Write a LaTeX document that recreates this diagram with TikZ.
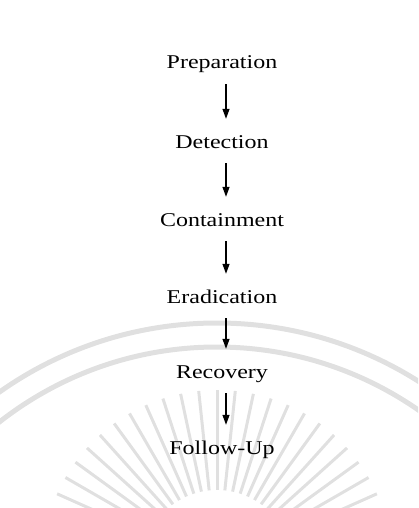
\documentclass[tikz,border=0pt]{standalone}
\usepackage{fontspec}
\setmainfont{Liberation Serif}[FakeStretch=1.23]
\usepackage{tikz}
\usetikzlibrary{arrows.meta}
\definecolor{markgray}{HTML}{E0E0E0}

\begin{document}
\begin{tikzpicture}[x=1pt,y=1pt,
  phase/.style={
    inner sep=0pt, anchor=base, text height=13pt, text depth=0pt,
    font=\fontsize{19.5}{22}\selectfont
  },
  arrow/.style={-{Triangle[length=10pt,width=7pt]}, line width=1.3pt,
    shorten <=15pt, shorten >=16pt},
  wmark/.style={draw=markgray, line width=5pt}
]
\useasboundingbox (0,0) rectangle (418,-508);

% faint watermark of the scanned page
\begin{scope}
\clip (0,0) rectangle (418,-508);
\draw[wmark] (217,-700) circle (377);
\draw[wmark] (217,-700) circle (353);
\foreach \a in {12,18,...,168}
  \draw[draw=markgray, line width=3pt] (217,-565) ++(\a:75) -- ++(\a:100);
\end{scope}

\node[phase] (prep) at (222,-69) {Preparation};
\node[phase] (det) at (222,-148) {Detection};
\node[phase] (cont) at (222,-226) {Containment};
\node[phase] (erad) at (222,-303) {Eradication};
\node[phase] (rec) at (222,-378) {Recovery};
\node[phase] (fol) at (222,-454) {Follow-Up};

\draw[arrow] ([xshift=4pt]prep.south) -- ([xshift=4pt]det.north);
\draw[arrow] ([xshift=4pt]det.south) -- ([xshift=4pt]cont.north);
\draw[arrow] ([xshift=4pt]cont.south) -- ([xshift=4pt]erad.north);
\draw[arrow] ([xshift=4pt]erad.south) -- ([xshift=4pt]rec.north);
\draw[arrow] ([xshift=4pt]rec.south) -- ([xshift=4pt]fol.north);
\end{tikzpicture}
\end{document}
